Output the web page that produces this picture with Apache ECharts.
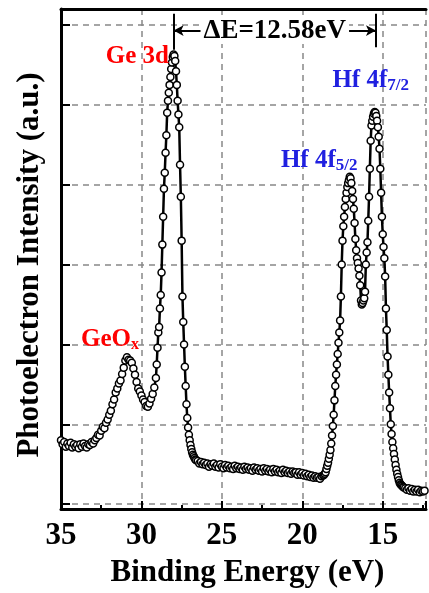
<!DOCTYPE html>
<html><head><meta charset="utf-8">
<script src="https://cdn.jsdelivr.net/npm/echarts@6/dist/echarts.min.js"></script>
<style>html,body{margin:0;padding:0;background:#fff}#chart{width:429px;height:593px}</style>
</head><body><div id="chart"></div><script>
// ---- data (binding energy eV, intensity a.u.) ----
const leftBaseline = [[35.0,0.80],[34.9,0.75],[34.8,0.78],[34.7,0.72],[34.6,0.76],[34.5,0.73],[34.4,0.77],[34.3,0.71],[34.2,0.75],[34.1,0.72],[34.0,0.74],[33.9,0.70],[33.8,0.75],[33.7,0.72],[33.6,0.76],[33.5,0.73],[33.4,0.71],[33.3,0.75],[33.2,0.74],[33.1,0.78],[33.0,0.76],[32.9,0.80]];
const geoxRegion = [[32.8,0.83],[32.7,0.87],[32.6,0.86],[32.5,0.92],[32.4,0.97],[32.3,0.95],[32.2,1.02],[32.1,1.06],[32.0,1.12],[31.9,1.17],[31.8,1.25],[31.7,1.31],[31.6,1.40],[31.5,1.45],[31.4,1.51],[31.3,1.55],[31.2,1.63],[31.1,1.71],[31.0,1.80],[30.9,1.84],[30.8,1.81],[30.7,1.80],[30.6,1.77],[30.5,1.70],[30.4,1.62],[30.3,1.53],[30.2,1.45],[30.1,1.41],[30.0,1.36],[29.9,1.31],[29.8,1.28],[29.7,1.23],[29.6,1.22],[29.5,1.26],[29.4,1.32],[29.3,1.38],[29.2,1.46],[29.1,1.58]];
const ge3dRegion = [[29.05,1.75],[29.0,1.96],[28.95,2.15],[28.9,2.22],[28.85,2.45],[28.8,2.62],[28.75,2.9],[28.7,3.25],[28.65,3.6],[28.6,3.95],[28.55,4.15],[28.5,4.4],[28.45,4.62],[28.4,4.9],[28.35,5.05],[28.3,5.15],[28.25,5.25],[28.2,5.35],[28.15,5.45],[28.1,5.53],[28.05,5.6],[28.0,5.63],[27.95,5.61],[27.9,5.55],[27.85,5.42],[27.8,5.25],[27.75,5.05],[27.7,4.88],[27.65,4.72],[27.6,4.25],[27.55,3.85],[27.5,3.3],[27.45,2.6],[27.4,2.28],[27.35,2.0],[27.3,1.72],[27.25,1.48],[27.2,1.25],[27.15,1.08],[27.1,0.96],[27.05,0.87],[27.0,0.8],[26.95,0.74],[26.9,0.69],[26.85,0.65],[26.8,0.62],[26.75,0.6],[26.7,0.58],[26.65,0.56],[26.6,0.55]];
const midBaseline = [[26.5,0.54],[26.4,0.51],[26.3,0.53],[26.2,0.50],[26.1,0.52],[26.0,0.49],[25.9,0.51],[25.8,0.47],[25.7,0.50],[25.6,0.48],[25.5,0.51],[25.4,0.47],[25.3,0.49],[25.2,0.46],[25.1,0.50],[25.0,0.47],[24.9,0.45],[24.8,0.49],[24.7,0.46],[24.6,0.48],[24.5,0.45],[24.4,0.47],[24.3,0.44],[24.2,0.48],[24.1,0.45],[24.0,0.47],[23.9,0.44],[23.8,0.46],[23.7,0.43],[23.6,0.47],[23.5,0.44],[23.4,0.46],[23.3,0.43],[23.2,0.45],[23.1,0.42],[23.0,0.46],[22.9,0.43],[22.8,0.45],[22.7,0.42],[22.6,0.44],[22.5,0.41],[22.4,0.45],[22.3,0.42],[22.2,0.44],[22.1,0.41],[22.0,0.43],[21.9,0.40],[21.8,0.44],[21.7,0.41],[21.6,0.43],[21.5,0.40],[21.4,0.42],[21.3,0.39],[21.2,0.43],[21.1,0.40],[21.0,0.42],[20.9,0.39],[20.8,0.41],[20.7,0.38],[20.6,0.41],[20.5,0.39],[20.4,0.40],[20.3,0.37],[20.2,0.40],[20.1,0.37],[20.0,0.39],[19.9,0.36],[19.8,0.38],[19.7,0.35],[19.6,0.37],[19.5,0.34],[19.4,0.36],[19.3,0.33],[19.2,0.35],[19.1,0.33],[19.0,0.34],[18.9,0.32],[18.8,0.35],[18.7,0.36]];
const hfRegion = [[18.65,0.37],[18.6,0.38],[18.55,0.40],[18.5,0.44],[18.45,0.48],[18.4,0.52],[18.35,0.57],[18.3,0.62],[18.25,0.68],[18.2,0.76],[18.15,0.86],[18.1,0.98],[18.05,1.12],[18.0,1.30],[17.95,1.48],[17.9,1.62],[17.85,1.75],[17.8,1.88],[17.75,2.02],[17.7,2.15],[17.65,2.30],[17.6,2.60],[17.55,3.00],[17.5,3.30],[17.45,3.48],[17.4,3.60],[17.35,3.72],[17.3,3.82],[17.25,3.90],[17.2,3.97],[17.15,4.02],[17.1,4.06],[17.05,4.10],[17.0,4.08],[16.95,4.02],[16.9,3.92],[16.85,3.82],[16.8,3.70],[16.75,3.52],[16.7,3.32],[16.65,3.18],[16.6,3.08],[16.55,3.02],[16.5,2.95],[16.45,2.86],[16.4,2.74],[16.35,2.55],[16.3,2.50],[16.25,2.52],[16.2,2.55],[16.15,2.58],[16.1,2.66],[16.05,3.00],[16.0,3.15],[15.95,3.28],[15.9,3.55],[15.85,3.85],[15.8,4.20],[15.75,4.55],[15.7,4.74],[15.65,4.80],[15.6,4.85],[15.55,4.89],[15.5,4.91],[15.45,4.90],[15.4,4.86],[15.35,4.80],[15.3,4.72],[15.25,4.60],[15.2,4.45],[15.15,4.20],[15.1,3.90],[15.05,3.60],[15.0,3.38],[14.95,3.22],[14.9,3.08],[14.85,2.85],[14.8,2.45],[14.75,2.18],[14.7,1.85],[14.65,1.62],[14.6,1.40],[14.55,1.20],[14.5,1.00],[14.45,0.88],[14.4,0.78],[14.35,0.70],[14.3,0.63],[14.25,0.56],[14.2,0.49],[14.15,0.43],[14.1,0.38],[14.05,0.34],[14.0,0.30],[13.95,0.27],[13.9,0.25],[13.85,0.24],[13.8,0.23],[13.75,0.22],[13.7,0.21]];
const rightTail = [[13.6,0.20],[13.5,0.18],[13.4,0.20],[13.3,0.17],[13.2,0.19],[13.1,0.16],[13.0,0.18],[12.9,0.16],[12.8,0.18],[12.7,0.15],[12.6,0.17],[12.5,0.16],[12.4,0.17],[12.3,0.15]];
const xTickLabels = [35, 30, 25, 20, 15];
const ge3dPeakE = 28.0;
const deltaE = 12.58;
const hf72PeakE = 15.42;
const peakLabels = [
  {name:'Ge 3d', E:30.25, I:5.60, text:'{r|Ge 3d}'},
  {name:'GeOx', E:31.95, I:2.06, text:'{r|GeO}{rs|x}'},
  {name:'Hf 4f7/2', E:15.75, I:5.30, text:'{b|Hf 4f}{bs|7/2}'},
  {name:'Hf 4f5/2', E:18.95, I:4.30, text:'{b|Hf 4f}{bs|5/2}'}
];

const FONT = '"Liberation Serif","Times New Roman",serif';
const spectrum = [].concat(leftBaseline, geoxRegion, ge3dRegion, midBaseline, hfRegion, rightTail);
const xMin = 12.31, xMax = 35;
const RED = '#ff0000', BLUE = '#2020e0';
const richStyles = {
  r:{color:RED, fontFamily:FONT, fontWeight:'bold', fontSize:25, lineHeight:26},
  rs:{color:RED, fontFamily:FONT, fontWeight:'bold', fontSize:16, lineHeight:14, padding:[14,0,0,0], verticalAlign:'bottom'},
  b:{color:BLUE, fontFamily:FONT, fontWeight:'bold', fontSize:25, lineHeight:26},
  bs:{color:BLUE, fontFamily:FONT, fontWeight:'bold', fontSize:17, lineHeight:14, padding:[14,0,0,0], verticalAlign:'bottom'}
};

const chart = echarts.init(document.getElementById('chart'), null, {renderer:'canvas'});
const option = {
  animation:false,
  backgroundColor:'#fff',
  grid:{left:61, right:0, top:9, bottom:80, containLabel:false},
  xAxis:[{
    type:'value', inverse:true, min:xMin, max:xMax, splitNumber:5, position:'bottom',
    axisLine:{show:true, onZero:false, lineStyle:{color:'#000', width:3}},
    axisTick:{show:true, inside:true, length:8, lineStyle:{color:'#000', width:2}},
    minorTick:{show:true, splitNumber:2, length:4, lineStyle:{color:'#000', width:2}},
    axisLabel:{color:'#000', fontFamily:FONT, fontWeight:'bold', fontSize:31, margin:11,
      formatter:function(v){ return xTickLabels.indexOf(Math.round(v*100)/100) >= 0 ? String(v) : ''; }},
    splitLine:{show:true, lineStyle:{color:'#888', width:1.5, type:[6,5]}},
    name:'Binding Energy (eV)', nameLocation:'middle', nameGap:48,
    nameTextStyle:{color:'#000', fontFamily:FONT, fontWeight:'bold', fontSize:31, padding:[0,0,0,8]}
  },{
    type:'value', inverse:true, min:xMin, max:xMax, position:'top',
    axisLine:{show:true, onZero:false, lineStyle:{color:'#000', width:3}},
    axisTick:{show:false}, axisLabel:{show:false}, splitLine:{show:false}
  }],
  yAxis:{
    type:'value', min:-0.06, max:6.2, splitNumber:6,
    axisLine:{show:true, onZero:false, lineStyle:{color:'#000', width:3}},
    axisTick:{show:true, inside:true, length:9, lineStyle:{color:'#000', width:2}},
    axisLabel:{show:false},
    splitLine:{show:true, lineStyle:{color:'#888', width:1.5, type:[6,5]}},
    name:'Photoelectron Intensity (a.u.)', nameLocation:'middle', nameGap:16,
    nameTextStyle:{color:'#000', fontFamily:FONT, fontWeight:'bold', fontSize:31, padding:[0,12,0,0]}
  },
  series:[{
    type:'line', xAxisIndex:0, data:spectrum,
    symbol:'circle', symbolSize:7, showSymbol:true, showAllSymbol:true,
    lineStyle:{color:'#000', width:2.5},
    itemStyle:{color:'#fff', borderColor:'#000', borderWidth:1.5},
    emphasis:{disabled:true},
    markLine:{
      silent:true, symbol:['none','none'], animation:false,
      lineStyle:{color:'#000', width:2, type:'solid'},
      label:{show:false},
      emphasis:{disabled:true},
      data:[
        [{coord:[ge3dPeakE, 5.69]},{coord:[ge3dPeakE, 6.14]}],
        [{coord:[hf72PeakE, 5.72]},{coord:[hf72PeakE, 6.14]}],
        [{coord:[ge3dPeakE, 5.93], symbol:'arrow', symbolSize:[8,10]},{coord:[hf72PeakE, 5.93], symbol:'arrow', symbolSize:[8,10]}]
      ]
    },
    markPoint:{
      silent:true, symbol:'circle', symbolSize:1, animation:false,
      itemStyle:{color:'rgba(0,0,0,0)'},
      label:{show:true, position:'inside'},
      data: peakLabels.map(function(p){
        return {coord:[p.E, p.I], label:{show:true, position:'inside', formatter:p.text, rich:richStyles}};
      }).concat([{
        coord:[(ge3dPeakE + hf72PeakE)/2, 5.93],
        label:{show:true, position:'inside', formatter:'\u0394E=' + deltaE.toFixed(2) + 'eV',
          color:'#000', fontFamily:FONT, fontWeight:'bold', fontSize:27, backgroundColor:'#fff', padding:[0,3,0,3]}
      }])
    }
  }]
};
chart.setOption(option);
</script></body></html>
